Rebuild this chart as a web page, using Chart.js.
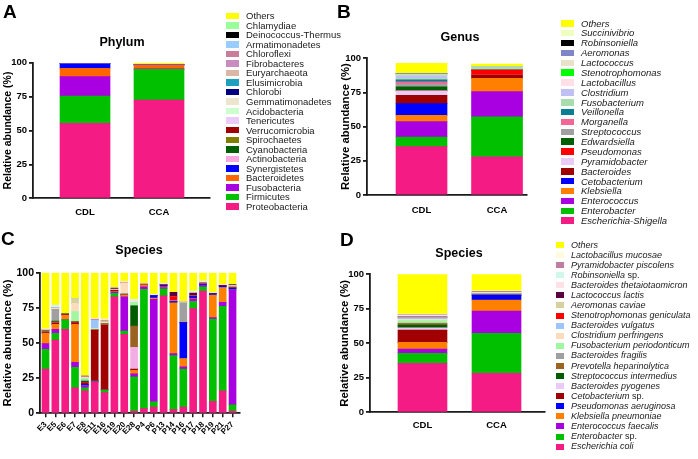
<!DOCTYPE html>
<html><head><meta charset="utf-8">
<script src="https://cdn.jsdelivr.net/npm/chart.js@4"></script>
<style>
html,body{margin:0;padding:0;background:#fff;}
body{width:698px;height:459px;position:relative;overflow:hidden;font-family:"Liberation Sans",Arial,sans-serif;}
canvas{position:absolute;}
.txt{position:absolute;white-space:nowrap;color:#000;}
.sw{position:absolute;}
</style></head><body>
<canvas id="cA" width="220" height="230" style="left:0;top:0"></canvas>
<canvas id="cB" width="200" height="230" style="left:335px;top:0"></canvas>
<canvas id="cC" width="250" height="229" style="left:0;top:230px"></canvas>
<canvas id="cD" width="215" height="229" style="left:335px;top:230px"></canvas>
<script>
// ---------- DATA ----------
const groups = ['CDL', 'CCA'];
const yTicks = [0, 25, 50, 75, 100];

// Panel A: Phylum (stack order bottom -> top)
const phylumNames = ['Proteobacteria','Firmicutes','Fusobacteria','Bacteroidetes','Synergistetes','Actinobacteria','Cyanobacteria','Spirochaetes','Verrucomicrobia','Tenericutes','Acidobacteria','Gemmatimonadetes','Chlorobi','Elusimicrobia','Euryarchaeota','Fibrobacteres','Chloroflexi','Armatimonadetes','Deinococcus-Thermus','Chlamydiae','Others'];
const phylumCDL = [55.3,20.1,14.3,6.1,3.4,0.1,0.1,0,0.1,0.1,0,0,0,0,0,0,0,0,0,0,0.2];
const phylumCCA = [72.5,22.6,0.3,2.8,0.3,0.1,0,0,0,0,0,0,0,0,0,0,0,0,0,0,0.9];
const phylumColors = ['#F51B84','#00C000','#A800E0','#FF6600','#0000FF','#F7A8E0','#005F00','#808000','#A00000','#EBCCF9','#CCFFCC','#EDE6CF','#000080','#1CA0BE','#D9B9A6','#C98BC0','#C87D9B','#99CCFF','#000000','#99FF99','#FFFF00'];

// Panel B: Genus (bottom -> top)
const genusNames = ['Escherichia-Shigella','Enterobacter','Enterococcus','Klebsiella','Cetobacterium','Bacteroides','Pyramidobacter','Pseudomonas','Edwardsiella','Streptococcus','Morganella','Veillonella','Fusobacterium','Clostridium','Lactobacillus','Stenotrophomonas','Lactococcus','Aeromonas','Robinsoniella','Succinivibrio','Others'];
const genusCDL = [35.4,7.0,11.3,4.6,8.6,6.1,3.2,0,2.9,2.0,1.7,1.5,0.8,2.3,0.5,0,0.5,0.4,0.1,0.1,7.3];
const genusCCA = [28.0,29.1,18.5,9.8,0,2.4,0,3.6,0,0,0,0,2.5,0,0,0,0,0,0,0,1.9];
const genusColors = ['#F51B84','#00C000','#A800E0','#FF7F00','#0000FF','#9E0000','#EACAF6','#FF0000','#005F00','#A0A0A0','#F36795','#0A7E93','#A8DDAF','#BFC0F5','#FFE0E6','#00FF00','#EAE2C8','#7F86C8','#000000','#EFFFBF','#FFFF00'];

// Panel D: Species (bottom -> top)
const speciesNames = ['Escherichia coli','Enterobacter sp.','Enterococcus faecalis','Klebsiella pneumoniae','Pseudomonas aeruginosa','Cetobacterium sp.','Bacteroides pyogenes','Streptococcus intermedius','Prevotella heparinolytica','Bacteroides fragilis','Fusobacterium periodonticum','Clostridium perfringens','Bacteroides vulgatus','Stenotrophomonas geniculata','Aeromonas caviae','Lactococcus lactis','Bacteroides thetaiotaomicron','Robinsoniella sp.','Pyramidobacter piscolens','Lactobacillus mucosae','Others'];
const speciesCDL = [35.5,7.2,3.2,4.8,0,8.9,1.7,1.9,1.0,0.5,1.7,1.0,1.2,0,0.5,0.3,0.8,0.3,0.3,0.4,28.8];
const speciesCCA = [28.3,28.9,16.2,8.0,3.6,0,0,0,0,1.0,0.3,0,0,0,0,0,0.4,0,1.0,0.3,12.0];
const speciesColors = ['#F51B84','#00C000','#A800E0','#FF7F00','#0000FF','#A00000','#EACBF7','#005C00','#9A6420','#A0A0A0','#A0F7A0','#FDDCBC','#9CC6F5','#FF0000','#D5D29E','#5A0040','#FFE0E6','#D0F7EA','#BF7F9F','#FFFCD9','#FFFF00'];

// Panel C: Species per sample
const samples = ['E3','E5','E6','E7','E8','E11','E16','E19','E20','E28','P4','P6','P13','P14','P16','P17','P18','P19','P21','P27'];
const cEcoli  = [31.5,52.1,59.7,18.2,15.9,22.0,14.7,82.9,56.2,1.5,3.3,4.5,83.6,2.6,4.5,74.5,87.0,8.5,16.0,1.5];
const cEntb   = [14.0,4.8,6.7,14.5,2.3,0.3,1.9,2.4,2.3,24.5,84.9,3.7,4.9,38.4,27.0,5.0,3.0,58.5,60.0,4.5];
const cEntc   = [4.0,2.8,0,3.6,1.5,0.7,0,1.0,24.4,2.0,1.8,72.8,1.0,1.5,1.5,2.0,1.0,1.0,3.0,81.5];
const cKleb   = [7.5,3.6,3.5,27.0,0,0,0,0.3,1.2,2.5,1.0,1.0,0.5,36.0,6.0,0.3,0,16.0,10.5,0.3];
const cPseud  = [0,0,0,0,0.9,0,0,0,0,0,0,1.8,1.0,1.0,25.5,1.2,0.6,1.2,1.0,1.0];
const cCeto   = [0.8,1.0,0.5,1.2,1.2,36.2,46.2,0.8,0,1.0,0.4,0,0.5,0,0,0.5,0.4,0,0.5,0.7];
const cBpyo   = [0,0,0,0,0,0,0,0,0,15.5,0,0,0,0,0,0,0,0,0,0];
const cPrev   = [0.8,0.8,0.3,0.7,0,0,0.8,0,0.6,15.0,0,0,0,0,0,0,0,0,0,0];
const cStrep  = [0,0.5,0,0,0.9,0,0,0,0,14.5,0,0,0,0,0,0,0,0,0,0];
const cBfrag  = [0.4,8.3,0,0,1.0,0.4,0,0,0.6,0,0,0,0,0,14.0,0,0,0,0,0.8];
const cFuso   = [0,0,0,7.1,1.2,0.4,0,0,0,2.5,0,0,0,0,0,0,0,0,0,0];
const cClost  = [0.5,0.8,0.4,5.9,0.8,0.4,1.2,0.5,7.5,0,0.5,0,0,0,1.0,0,0,0,0,0];
const cBvulg  = [0,0.7,0,0,0,6.0,0,0,0,0,0,0,0,0.5,0,0,0,0,0,0];
const cSteno  = [0,0,0,0,0,0,0,0,0,0,0,0,0,3.0,0,0,0,0,0,0];
const cAero   = [0,0,0,3.6,0.3,0,1.0,0.5,0,0,0,0,0,0,0,0,0,0,0,0.7];
const cLactoc = [0,0,0,0,0.5,0,0,0.6,0,0,0,0,0,3.0,0,2.0,0.8,0,0,0.5];
const cBtheta = [0.5,0.5,0,0,0,1.1,1.3,0.5,0.8,1.0,0.5,0.5,0.5,0,0,0.8,0.8,0.3,0.5,0];
const cRobin  = [0,1.1,0,0,0,0,0,0,0,1.0,0,0.3,0.4,0,0,0.7,0.7,0,0,0];
const cOthers = [40.0,23.0,28.9,18.2,73.5,32.5,32.9,10.5,6.4,19.0,7.6,15.4,7.6,14.0,20.5,13.0,5.7,14.5,8.5,8.5];
const cNames = ['Escherichia coli','Enterobacter sp.','Enterococcus faecalis','Klebsiella pneumoniae','Pseudomonas aeruginosa','Cetobacterium sp.','Bacteroides pyogenes','Prevotella heparinolytica','Streptococcus intermedius','Bacteroides fragilis','Fusobacterium periodonticum','Clostridium perfringens','Bacteroides vulgatus','Stenotrophomonas geniculata','Aeromonas caviae','Lactococcus lactis','Bacteroides thetaiotaomicron','Robinsoniella sp.','Others'];
const cSeries = [cEcoli,cEntb,cEntc,cKleb,cPseud,cCeto,cBpyo,cPrev,cStrep,cBfrag,cFuso,cClost,cBvulg,cSteno,cAero,cLactoc,cBtheta,cRobin,cOthers];

// ---------- DRAWING ----------
Chart.defaults.font.family = '"Liberation Sans", Arial, sans-serif';
const AX = '#1a1a1a';

function makeChart(id, cats, datasets, o) {
  return new Chart(document.getElementById(id), {
    type: 'bar',
    data: { labels: cats.map((c, i) => i), datasets },
    options: {
      responsive: false, animation: false, devicePixelRatio: 1,
      layout: { padding: o.pad },
      plugins: { legend: { display: false }, tooltip: { enabled: false } },
      scales: {
        x: {
          type: 'linear', stacked: true, offset: false, min: o.xmin, max: o.xmax,
          afterBuildTicks: s => { s.ticks = cats.map((c, i) => ({ value: i })); },
          afterFit: s => { s.height = o.xh; },
          ticks: { autoSkip: false, color: '#000', padding: o.xpad, maxRotation: o.rot, minRotation: o.rot,
                   font: { weight: 'bold', size: o.xfs }, callback: v => cats[v] },
          grid: { drawOnChartArea: false, drawTicks: o.xticks, tickLength: 4, color: AX, lineWidth: 1.5, offset: false },
          border: { display: true, color: AX, width: 1.8 }
        },
        y: {
          stacked: true, min: 0, max: 100,
          afterBuildTicks: s => { s.ticks = yTicks.map(v => ({ value: v })); },
          afterFit: s => { s.width = o.yw; },
          ticks: { color: '#000', padding: 2, font: { weight: 'bold', size: o.yfs } },
          grid: { drawOnChartArea: false, drawTicks: true, tickLength: 4, color: AX, lineWidth: 1.8 },
          border: { display: true, color: AX, width: 1.8 },
          title: { display: true, text: 'Relative abundance (%)', color: '#000',
                   font: { weight: 'bold', size: o.tfs }, padding: { top: o.tpad, bottom: 0 } }
        }
      }
    }
  });
}

function groupDatasets(names, colors, a, b, thick) {
  return names.map((n, i) => ({ label: n, data: [a[i], b[i]], backgroundColor: colors[i], borderWidth: 0, barThickness: thick }));
}

makeChart('cA', groups, groupDatasets(phylumNames, phylumColors, phylumCDL, phylumCCA, 50), {
  pad: { left: 0, top: 62.7, right: 10, bottom: 6.7 }, xh: 25, yw: 33,
  xmin: -0.703, xmax: 1.689, xpad: 8.5, rot: 0, xfs: 9.5, yfs: 9.5, xticks: false, tfs: 10.5, tpad: 1.7
});
makeChart('cB', groups, groupDatasets(genusNames, genusColors, genusCDL, genusCCA, 51), {
  pad: { left: 0, top: 58.3, right: 8, bottom: 10 }, xh: 25, yw: 32,
  xmin: -0.722, xmax: 1.397, xpad: 9.3, rot: 0, xfs: 9.5, yfs: 9.5, xticks: false, tfs: 11.3, tpad: 4.2
});
makeChart('cD', groups, groupDatasets(speciesNames, speciesColors, speciesCDL, speciesCCA, 49), {
  pad: { left: 0, top: 44.3, right: 5, bottom: 21.7 }, xh: 25, yw: 35,
  xmin: -0.709, xmax: 1.655, xpad: 7, rot: 0, xfs: 9.5, yfs: 9.5, xticks: false, tfs: 11.3, tpad: 3.2
});

const colorByName = {};
speciesNames.forEach((n, i) => colorByName[n] = speciesColors[i]);
colorByName['Bacteroides pyogenes'] = '#F2AEE4';
makeChart('cC', samples, cNames.map((n, i) => ({ label: n, data: cSeries[i], backgroundColor: colorByName[n], borderWidth: 0, barThickness: 7 })), {
  pad: { left: 0, top: 42.7, right: 10, bottom: 10.7 }, xh: 35, yw: 40,
  xmin: -0.559, xmax: 19.76, xpad: 2.5, rot: 45, xfs: 8, yfs: 10.5, xticks: true, tfs: 11.3, tpad: 0.7
});

// ---------- TEXT: panel letters, titles, legends ----------
function addText(txt, x, y, size, opts = {}) {
  const d = document.createElement('div');
  d.className = 'txt';
  d.textContent = txt;
  d.style.fontSize = size + 'px';
  d.style.lineHeight = size * 1.2 + 'px';
  d.style.fontWeight = opts.bold ? 'bold' : 'normal';
  if (opts.center) { d.style.left = (x - 100) + 'px'; d.style.width = '200px'; d.style.textAlign = 'center'; }
  else d.style.left = x + 'px';
  d.style.top = (y - size * 0.6) + 'px';
  document.body.appendChild(d);
}
addText('A', 3, 12, 19, { bold: true });
addText('B', 337, 12, 19, { bold: true });
addText('C', 1, 239, 19, { bold: true });
addText('D', 340, 240, 19, { bold: true });
addText('Phylum', 122, 42, 12.5, { bold: true, center: true });
addText('Genus', 460, 37, 12.5, { bold: true, center: true });
addText('Species', 139, 250, 12.5, { bold: true, center: true });
addText('Species', 459, 253, 12.5, { bold: true, center: true });

function legend(names, colors, c) {
  const n = names.slice().reverse(), col = colors.slice().reverse();
  n.forEach((name, i) => {
    const y = c.y0 + i * c.step;
    const sw = document.createElement('div');
    sw.className = 'sw';
    sw.style.cssText = `left:${c.sx}px;top:${y - c.sh / 2}px;width:${c.sw}px;height:${c.sh}px;background:${col[i]}`;
    document.body.appendChild(sw);
    const t = document.createElement('div');
    t.className = 'txt';
    t.style.cssText = `left:${c.tx}px;top:${y - c.fs * 0.6}px;font-size:${c.fs}px;line-height:${c.fs * 1.2}px;color:#1a1a1a`;
    if (c.italic && name !== 'Others') {
      const m = name.match(/^(.*?)( sp\.)?$/);
      const it = document.createElement('i'); it.textContent = m[1]; t.appendChild(it);
      if (m[2]) t.appendChild(document.createTextNode(m[2]));
    } else if (c.italic) {
      const it = document.createElement('i'); it.textContent = name; t.appendChild(it);
    } else t.textContent = name;
    document.body.appendChild(t);
  });
}
legend(phylumNames, phylumColors, { y0: 16, step: 9.52, sx: 226, sw: 13, sh: 6.5, tx: 246, fs: 9.5, italic: false });
legend(genusNames, genusColors, { y0: 23.3, step: 9.87, sx: 561, sw: 12.5, sh: 6.5, tx: 581, fs: 9.5, italic: true });
legend(speciesNames, speciesColors, { y0: 245, step: 10.08, sx: 556, sw: 8, sh: 6, tx: 571, fs: 9, italic: true });
</script>
</body></html>
